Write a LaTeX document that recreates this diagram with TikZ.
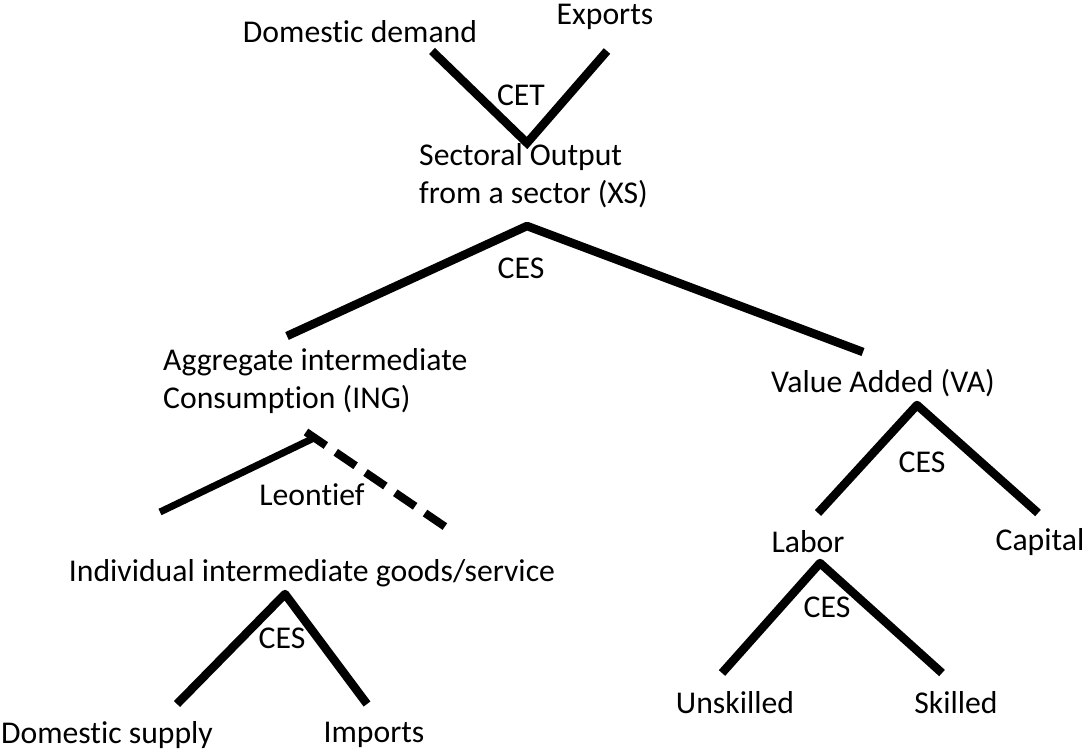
\documentclass[tikz,border=0pt]{standalone}
\usepackage{fontspec}
\setmainfont[Ligatures={NoCommon}]{Carlito}
\begin{document}
\begin{tikzpicture}[x=1pt,y=-1pt,
  lbl/.style={inner sep=0pt,font=\fontsize{31.7}{38}\selectfont},
  lblL/.style={lbl,anchor=west,align=left},
  branch/.style={line width=8.5pt,line cap=butt},
  thinbranch/.style={line width=7pt},
  dashbranch/.style={line width=8pt,dash pattern=on 24pt off 12pt}]
\useasboundingbox (0,0) rectangle (1083,755);
% text nodes
\node[lbl] (dd) at (360,32) {Domestic demand};
\node[lbl] (ex) at (605,17) {Exports};
\node[lbl] (cet) at (521,95) {CET};
\node[lblL] (xs) at (419,176) {Sectoral Output\\from a sector (XS)};
\node[lbl] (ces1) at (521,268) {CES};
\node[lblL] (ing) at (163,381) {Aggregate intermediate\\Consumption (ING)};
\node[lbl] (va) at (883,383) {Value Added (VA)};
\node[lbl] (ces2) at (922,462) {CES};
\node[lbl] (lab) at (808,542) {Labor};
\node[lbl] (cap) at (1040,542) {Capital};
\node[lbl] (ces3) at (827,607) {CES};
\node[lbl] (uns) at (735,703) {Unskilled};
\node[lbl] (sk) at (956,703) {Skilled};
\node[lbl] (leo) at (312,495) {Leontief};
\node[lbl] (ind) at (312,573) {Individual intermediate goods/service};
\node[lbl] (ces4) at (282,638) {CES};
\node[lbl] (dsup) at (107,735) {Domestic supply};
\node[lbl] (imp) at (374,735) {Imports};
% connector end points
\coordinate (cetL) at (432,51);
\coordinate (cetR) at (607,51);
\coordinate (cetA) at (527,143);
\coordinate (xsA) at (527,226);
\coordinate (xsL) at (287,336);
\coordinate (xsR) at (863,352);
\coordinate (vaA) at (917,405);
\coordinate (vaL) at (818,513);
\coordinate (vaR) at (1038,513);
\coordinate (labA) at (820,563);
\coordinate (labL) at (722,673);
\coordinate (labR) at (942,673);
\coordinate (ingA) at (316,437);
\coordinate (ingD) at (306,432);
\coordinate (ingL) at (160,512);
\coordinate (ingR) at (447,528);
\coordinate (indA) at (285,594);
\coordinate (indL) at (177,704);
\coordinate (indR) at (367,704);
% connectors
\draw[branch,line join=miter] (cetL) -- (cetA) -- (cetR);
\draw[branch,line join=round] (xsL) -- (xsA) -- (xsR);
\draw[branch,line join=round] (vaL) -- (vaA) -- (vaR);
\draw[branch,line join=round] (labL) -- (labA) -- (labR);
\draw[thinbranch] (ingL) -- (ingA);
\draw[dashbranch] (ingD) -- (ingR);
\draw[branch,line join=round] (indL) -- (indA) -- (indR);
\end{tikzpicture}
\end{document}
